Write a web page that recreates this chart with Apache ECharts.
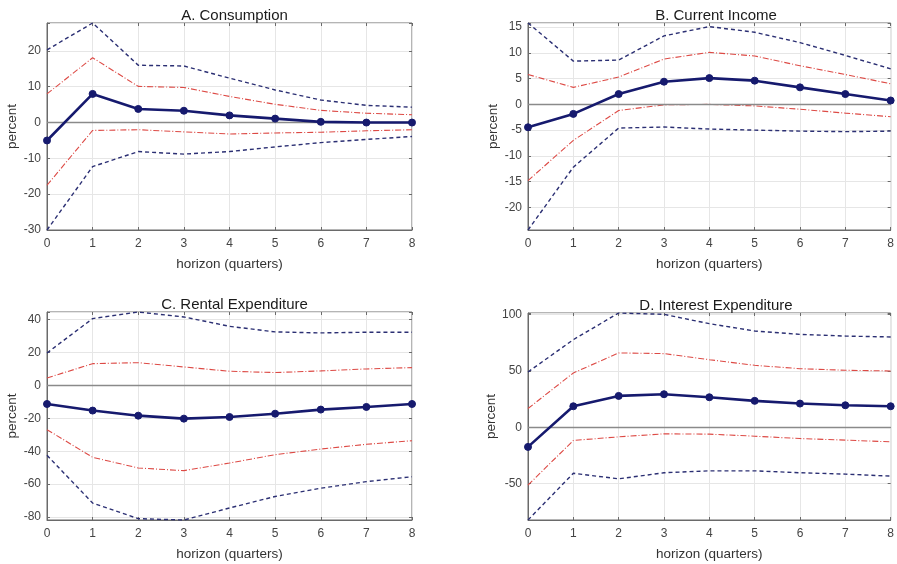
<!DOCTYPE html>
<html>
<head>
<meta charset="utf-8">
<script src="https://cdn.jsdelivr.net/npm/echarts@6/dist/echarts.min.js"></script>
<style>html,body{margin:0;padding:0;background:#fff}#c{width:897px;height:564px}</style>
</head>
<body>
<div id="c"></div>
<script>
const horizon = [0, 1, 2, 3, 4, 5, 6, 7, 8];
const panelTitles = ['A. Consumption', 'B. Current Income', 'C. Rental Expenditure', 'D. Interest Expenditure'];
const xLabel = 'horizon (quarters)';
const yLabel = 'percent';

// A. Consumption
const consMean = [-5.0, 8.0, 3.8, 3.3, 2.0, 1.1, 0.2, 0.0, 0.0];
const consUp68 = [8.0, 18.1, 10.1, 9.8, 7.3, 5.1, 3.4, 2.6, 2.2];
const consLo68 = [-17.5, -2.2, -2.0, -2.6, -3.2, -2.9, -2.7, -2.3, -2.0];
const consUp90 = [20.3, 27.8, 16.0, 15.8, 12.4, 9.1, 6.3, 4.8, 4.3];
const consLo90 = [-30.0, -12.3, -8.1, -8.8, -8.1, -6.8, -5.6, -4.7, -3.9];

// B. Current Income
const incMean = [-4.45, -1.85, 2.0, 4.4, 5.1, 4.6, 3.3, 2.0, 0.75];
const incUp68 = [5.8, 3.3, 5.3, 8.8, 10.1, 9.4, 7.5, 5.8, 4.0];
const incLo68 = [-14.8, -7.0, -1.2, -0.1, 0.0, -0.3, -0.95, -1.7, -2.4];
const incUp90 = [15.8, 8.4, 8.6, 13.3, 15.1, 14.0, 12.0, 9.5, 6.9];
const incLo90 = [-24.4, -12.2, -4.6, -4.4, -4.8, -5.0, -5.2, -5.3, -5.2];

// C. Rental Expenditure
const rentMean = [-11.3, -15.3, -18.4, -20.2, -19.2, -17.2, -14.7, -13.1, -11.3];
const rentUp68 = [4.5, 13.2, 13.8, 11.2, 8.6, 7.8, 8.8, 10.0, 10.8];
const rentLo68 = [-26.9, -43.7, -50.2, -51.8, -47.2, -42.1, -38.7, -35.8, -33.6];
const rentUp90 = [19.7, 40.6, 44.6, 41.6, 35.9, 32.5, 31.9, 32.3, 32.3];
const rentLo90 = [-42.5, -71.5, -81.0, -81.8, -74.5, -67.5, -62.5, -58.5, -55.5];

// D. Interest Expenditure
const intMean = [-17.5, 18.6, 27.8, 29.3, 26.6, 23.4, 21.0, 19.5, 18.6];
const intUp68 = [16.6, 48.2, 66.0, 65.4, 60.0, 55.0, 52.0, 50.6, 50.0];
const intLo68 = [-51.5, -11.8, -8.6, -5.9, -6.2, -8.0, -10.1, -11.5, -13.0];
const intUp90 = [49.1, 77.8, 101.5, 100.3, 92.0, 85.5, 82.5, 81.0, 80.2];
const intLo90 = [-82.5, -41.0, -45.9, -40.5, -38.8, -38.8, -40.5, -41.7, -43.5];

// axis ranges and tick steps
const yMins = [-30, -24.4, -81.8, -82.5];
const yMaxs = [27.8, 15.8, 44.6, 101.5];
const ySteps = [10, 5, 20, 50];
const ySplits = [6, 8, 6, 4];

const panels = [
  [consMean, consUp68, consLo68, consUp90, consLo90],
  [incMean, incUp68, incLo68, incUp90, incLo90],
  [rentMean, rentUp68, rentLo68, rentUp90, rentLo90],
  [intMean, intUp68, intLo68, intUp90, intLo90]
];

const grids = [
  {left: 47, top: 23, width: 365, height: 207},
  {left: 528, top: 23, width: 366, height: 207},
  {left: 47, top: 312, width: 365, height: 208},
  {left: 528, top: 313, width: 366, height: 207}
];

const FONT = 'Liberation Sans, Arial, Helvetica, sans-serif';
const NAVY = '#161a6e';
const RED = '#dd4a45';
const DASH = '#2b2f73';
const FRAME = '#6a6a6a';

const option = {
  animation: false,
  backgroundColor: '#fff',
  title: [], grid: [], xAxis: [], yAxis: [], series: []
};

const onStep = step => (v => Math.abs(v / step - Math.round(v / step)) < 1e-6);

panels.forEach((p, i) => {
  const g = grids[i];
  option.grid.push({left: g.left, top: g.top, width: g.width, height: g.height,
    show: true, borderColor: FRAME, borderWidth: 1, backgroundColor: 'transparent'});
  option.title.push({text: panelTitles[i], left: g.left + g.width / 2, top: g.top - 20,
    textAlign: 'center',
    textStyle: {fontFamily: FONT, fontSize: 15, fontWeight: 'normal', color: '#1a1a1a'}});
  option.xAxis.push({
    type: 'value', gridIndex: i, min: 0, max: 8, interval: 1,
    name: xLabel, nameLocation: 'middle', nameGap: 27,
    nameTextStyle: {fontFamily: FONT, fontSize: 13.5, color: '#333'},
    axisLine: {show: true, onZero: false, lineStyle: {color: FRAME}},
    axisTick: {show: true, inside: true, length: 3, lineStyle: {color: FRAME}},
    axisLabel: {fontFamily: FONT, fontSize: 12, color: '#444', margin: 8},
    splitLine: {show: true, lineStyle: {color: '#e6e6e6', width: 1}}
  });
  const isTick = onStep(ySteps[i]);
  option.yAxis.push({
    type: 'value', gridIndex: i, min: yMins[i], max: yMaxs[i], splitNumber: ySplits[i],
    name: yLabel, nameLocation: 'middle', nameGap: 25,
    nameTextStyle: {fontFamily: FONT, fontSize: 13.5, color: '#333'},
    axisLine: {show: true, onZero: false, lineStyle: {color: FRAME}},
    axisTick: {show: true, inside: true, length: 3, lineStyle: {color: FRAME}},
    axisLabel: {fontFamily: FONT, fontSize: 12, color: '#444', margin: 6,
      showMinLabel: true, showMaxLabel: true,
      formatter: v => (isTick(v) ? String(Math.round(v)) : '')},
    splitLine: {show: true, lineStyle: {color: '#e6e6e6', width: 1}}
  });
  const mk = arr => horizon.map((h, k) => [h, arr[k]]);
  // 90% bands (dashed)
  [p[3], p[4]].forEach(arr => option.series.push({
    type: 'line', xAxisIndex: i, yAxisIndex: i, data: mk(arr), symbol: 'none',
    lineStyle: {color: DASH, width: 1.4, type: [4, 3]}, silent: true, z: 3
  }));
  // 68% bands (red dash-dot)
  [p[1], p[2]].forEach(arr => option.series.push({
    type: 'line', xAxisIndex: i, yAxisIndex: i, data: mk(arr), symbol: 'none',
    lineStyle: {color: RED, width: 1.1, type: [6, 2, 1, 2]}, silent: true, z: 3
  }));
  // mean response with zero line
  option.series.push({
    type: 'line', xAxisIndex: i, yAxisIndex: i, data: mk(p[0]),
    symbol: 'circle', symbolSize: 7, showAllSymbol: true,
    itemStyle: {color: NAVY, borderColor: NAVY},
    lineStyle: {color: NAVY, width: 2.6}, z: 5,
    markLine: {silent: true, symbol: 'none', label: {show: false},
      lineStyle: {color: '#8a8a8a', width: 1.3, type: 'solid'},
      data: [{yAxis: 0}]}
  });
});

// mirrored tick marks on top and right edges (box on)
panels.forEach((p, i) => {
  const isTick = onStep(ySteps[i]);
  option.xAxis.push({
    type: 'value', gridIndex: i, position: 'top', min: 0, max: 8, interval: 1,
    axisLine: {show: false, onZero: false}, axisLabel: {show: false}, splitLine: {show: false},
    axisTick: {show: true, inside: true, length: 3, lineStyle: {color: FRAME}}
  });
  option.yAxis.push({
    type: 'value', gridIndex: i, position: 'right', min: yMins[i], max: yMaxs[i], splitNumber: ySplits[i],
    axisLine: {show: false, onZero: false}, axisLabel: {show: false}, splitLine: {show: false},
    axisTick: {show: true, inside: true, length: 3, lineStyle: {color: FRAME}}
  });
});

const chart = echarts.init(document.getElementById('c'), null, {renderer: 'canvas'});
chart.setOption(option);
</script>
</body>
</html>
